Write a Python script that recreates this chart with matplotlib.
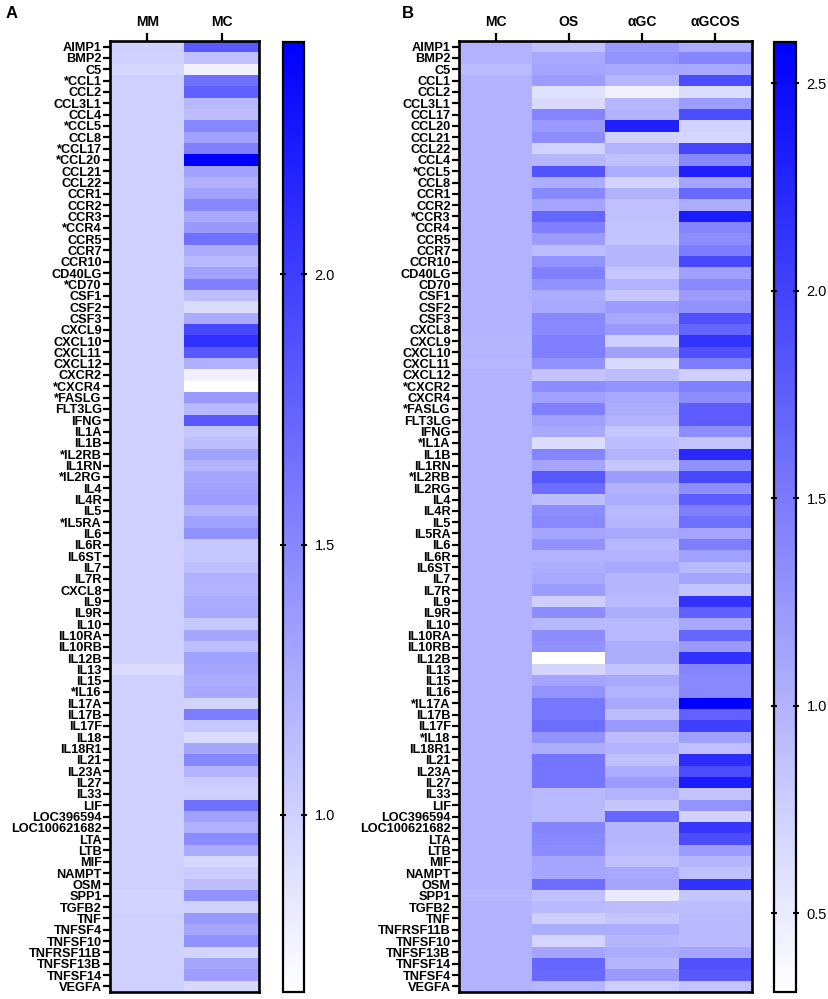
import matplotlib
matplotlib.use("Agg")
import matplotlib.pyplot as plt
import numpy as np
from matplotlib.colors import LinearSegmentedColormap

plt.rcParams['font.family'] = ['Liberation Sans', 'DejaVu Sans']

# ---------------- Panel A data ----------------
genes_a = ["AIMP1", "BMP2", "C5", "*CCL1", "CCL2", "CCL3L1", "CCL4", "*CCL5", "CCL8", "*CCL17",
           "*CCL20", "CCL21", "CCL22", "CCR1", "CCR2", "CCR3", "*CCR4", "CCR5", "CCR7", "CCR10",
           "CD40LG", "*CD70", "CSF1", "CSF2", "CSF3", "CXCL9", "CXCL10", "CXCL11", "CXCL12", "CXCR2",
           "*CXCR4", "*FASLG", "FLT3LG", "IFNG", "IL1A", "IL1B", "*IL2RB", "IL1RN", "*IL2RG", "IL4",
           "IL4R", "IL5", "*IL5RA", "IL6", "IL6R", "IL6ST", "IL7", "IL7R", "CXCL8", "IL9",
           "IL9R", "IL10", "IL10RA", "IL10RB", "IL12B", "IL13", "IL15", "*IL16", "IL17A", "IL17B",
           "IL17F", "IL18", "IL18R1", "IL21", "IL23A", "IL27", "IL33", "LIF", "LOC396594", "LOC100621682",
           "LTA", "LTB", "MIF", "NAMPT", "OSM", "SPP1", "TGFB2", "TNF", "TNFSF4", "TNFSF10",
           "TNFRSF11B", "TNFSF13B", "TNFSF14", "VEGFA"]
cols_a = ["MM", "MC"]
mm_a = [1.00, 0.99, 0.96, 1.00, 1.00, 1.00, 1.00, 1.00, 1.00, 1.00,
        1.00, 1.00, 1.00, 1.00, 1.00, 1.00, 1.00, 1.00, 1.00, 1.00,
        1.00, 1.00, 1.00, 1.00, 1.00, 1.00, 1.00, 1.00, 1.00, 1.00,
        1.00, 1.00, 1.00, 1.00, 1.00, 1.00, 1.00, 1.00, 1.00, 1.00,
        1.00, 1.00, 1.00, 1.00, 1.00, 1.00, 1.00, 1.00, 1.00, 1.00,
        1.00, 1.00, 1.00, 1.00, 1.00, 0.93, 1.00, 1.00, 1.00, 1.00,
        1.00, 1.00, 1.00, 1.00, 1.00, 1.00, 1.00, 1.00, 1.00, 1.00,
        1.00, 1.00, 1.00, 1.00, 1.00, 0.97, 0.98, 1.00, 1.00, 1.00,
        1.00, 1.00, 1.00, 1.00]
mc_a = [1.81, 1.11, 0.78, 1.66, 1.77, 1.16, 1.13, 1.50, 1.32, 1.55,
        2.43, 1.32, 1.22, 1.32, 1.50, 1.27, 1.38, 1.66, 1.25, 1.16,
        1.32, 1.55, 1.13, 0.92, 1.25, 1.94, 2.10, 1.82, 1.22, 0.78,
        0.67, 1.38, 1.16, 1.82, 1.06, 1.13, 1.32, 1.19, 1.29, 1.32,
        1.35, 1.19, 1.32, 1.44, 1.06, 1.06, 1.13, 1.22, 1.19, 1.25,
        1.27, 1.06, 1.29, 1.13, 1.32, 1.29, 1.25, 1.27, 0.97, 1.57,
        1.06, 0.92, 1.29, 1.50, 1.19, 1.03, 1.00, 1.66, 1.32, 1.22,
        1.47, 1.25, 0.95, 1.03, 1.13, 1.41, 1.00, 1.38, 1.29, 1.44,
        0.97, 1.29, 1.35, 0.95]
vmin_a, vmax_a = 0.672, 2.43
ticks_a = [1.0, 1.5, 2.0]

# ---------------- Panel B data ----------------
genes_b = ["AIMP1", "BMP2", "C5", "CCL1", "CCL2", "CCL3L1", "CCL17", "CCL20", "CCL21", "CCL22",
           "CCL4", "*CCL5", "CCL8", "CCR1", "CCR2", "*CCR3", "CCR4", "CCR5", "CCR7", "CCR10",
           "CD40LG", "CD70", "CSF1", "CSF2", "CSF3", "CXCL8", "CXCL9", "CXCL10", "CXCL11", "CXCL12",
           "*CXCR2", "CXCR4", "*FASLG", "FLT3LG", "IFNG", "*IL1A", "IL1B", "IL1RN", "*IL2RB", "IL2RG",
           "IL4", "IL4R", "IL5", "IL5RA", "IL6", "IL6R", "IL6ST", "IL7", "IL7R", "IL9",
           "IL9R", "IL10", "IL10RA", "IL10RB", "IL12B", "IL13", "IL15", "IL16", "*IL17A", "IL17B",
           "IL17F", "*IL18", "IL18R1", "IL21", "IL23A", "IL27", "IL33", "LIF", "LOC396594", "LOC100621682",
           "LTA", "LTB", "MIF", "NAMPT", "OSM", "SPP1", "TGFB2", "TNF", "TNFRSF11B", "TNFSF10",
           "TNFSF13B", "TNFSF14", "TNFSF4", "VEGFA"]
cols_b = ["MC", "OS", "αGC", "αGCOS"]
mc_b = [1.00, 1.00, 0.92, 1.00, 1.00, 1.00, 1.00, 1.00, 1.00, 1.00,
        1.00, 1.00, 1.00, 1.00, 1.00, 1.00, 1.00, 1.00, 1.00, 1.00,
        1.00, 1.00, 1.00, 1.00, 1.00, 1.00, 0.97, 0.98, 0.96, 1.00,
        1.00, 1.00, 1.00, 1.00, 1.00, 1.00, 1.00, 1.00, 1.00, 1.00,
        1.00, 1.00, 1.00, 1.00, 1.00, 1.00, 1.00, 1.00, 1.00, 1.00,
        1.00, 1.00, 1.00, 1.00, 1.00, 1.00, 1.00, 1.00, 1.00, 1.00,
        1.00, 1.00, 1.00, 1.00, 1.00, 1.00, 1.00, 1.00, 1.00, 1.00,
        1.00, 1.00, 1.00, 1.00, 1.00, 0.96, 1.00, 1.00, 1.00, 1.00,
        1.00, 1.00, 1.00, 1.00]
os_b = [0.88, 1.09, 1.12, 1.20, 0.59, 0.65, 1.41, 1.23, 1.33, 0.72,
        0.97, 1.85, 1.05, 1.38, 1.12, 1.69, 1.45, 1.20, 0.91, 1.27,
        1.45, 1.30, 1.05, 1.09, 1.38, 1.38, 1.45, 1.45, 1.30, 0.85,
        1.33, 1.16, 1.45, 1.16, 1.09, 0.63, 1.41, 1.12, 1.81, 1.62,
        0.91, 1.33, 1.38, 1.12, 1.30, 1.00, 1.05, 1.09, 1.20, 0.75,
        1.33, 0.94, 1.33, 1.30, 0.31, 0.69, 1.12, 1.27, 1.52, 1.52,
        1.62, 1.27, 1.05, 1.55, 1.55, 1.55, 0.94, 0.94, 0.94, 1.41,
        1.38, 1.33, 1.12, 1.12, 1.62, 0.88, 0.94, 0.75, 1.05, 0.69,
        1.12, 1.69, 1.66, 0.97]
agc_b = [1.23, 1.27, 1.09, 0.97, 0.45, 0.97, 1.00, 2.31, 0.72, 1.00,
         0.88, 1.05, 0.72, 1.00, 0.88, 0.88, 0.85, 0.85, 0.97, 0.97,
         0.82, 1.00, 0.82, 1.20, 1.09, 1.23, 0.75, 1.16, 0.65, 0.91,
         1.27, 1.09, 1.05, 1.00, 0.82, 0.91, 1.00, 0.82, 1.20, 1.00,
         1.05, 0.94, 0.97, 1.09, 0.94, 1.00, 1.09, 0.97, 0.97, 0.94,
         1.05, 0.94, 0.94, 1.05, 1.05, 0.85, 1.09, 1.00, 1.09, 0.91,
         1.23, 0.91, 1.00, 0.88, 1.05, 1.20, 1.00, 0.82, 1.69, 0.97,
         0.97, 0.94, 0.88, 1.09, 1.12, 0.50, 0.91, 0.82, 1.05, 0.97,
         1.05, 0.97, 1.23, 0.75]
agcos_b = [1.05, 1.41, 1.09, 1.92, 0.63, 1.20, 1.92, 0.72, 0.69, 1.99,
           1.38, 2.31, 1.12, 1.66, 1.05, 2.35, 1.41, 1.33, 1.48, 1.95,
           1.16, 1.38, 1.20, 1.30, 1.88, 1.69, 2.14, 1.88, 1.48, 0.75,
           1.45, 1.33, 1.77, 1.77, 1.33, 0.85, 2.24, 1.30, 1.95, 1.33,
           1.77, 1.45, 1.59, 1.12, 1.48, 1.16, 0.94, 1.12, 0.85, 2.14,
           1.73, 1.09, 1.69, 1.23, 2.14, 1.41, 1.38, 1.38, 2.60, 1.73,
           2.03, 1.16, 0.88, 2.20, 1.92, 2.35, 0.85, 1.27, 0.72, 2.10,
           1.92, 1.20, 0.97, 0.88, 2.14, 0.82, 0.91, 0.94, 0.94, 0.94,
           1.12, 1.88, 1.81, 0.85]
vmin_b, vmax_b = 0.31, 2.60
ticks_b = [0.5, 1.0, 1.5, 2.0, 2.5]

# ---------------- Figure ----------------
W, H = 829, 999
fig = plt.figure(figsize=(W / 100, H / 100), dpi=100)
cmap = LinearSegmentedColormap.from_list("wb", ["#ffffff", "#0000ff"])


def px_axes(x0, x1, y0, y1):
    return fig.add_axes([x0 / W, 1 - y1 / H, (x1 - x0) / W, (y1 - y0) / H])


def heat(ax, cax, data, rows, cols, vmin, vmax, ticks):
    im = ax.imshow(data, cmap=cmap, vmin=vmin, vmax=vmax, aspect='auto',
                   interpolation='nearest')
    ax.set_yticks(np.arange(len(rows)))
    ax.set_yticklabels(rows, fontsize=9.2, fontweight='bold')
    ax.set_xticks(np.arange(len(cols)))
    ax.set_xticklabels(cols, fontsize=10, fontweight='bold')
    ax.xaxis.tick_top()
    ax.tick_params(axis='y', length=5, width=1.6, pad=1)
    ax.tick_params(axis='x', length=6, width=1.6, pad=3, bottom=False)
    for s in ax.spines.values():
        s.set_linewidth(1.9)
    cb = fig.colorbar(im, cax=cax, ticks=ticks, format='%.1f')
    cb.outline.set_linewidth(1.6)
    cax.tick_params(axis='y', which='major', left=True, right=True, direction='inout',
                    length=5, width=1.5, labelsize=10.5, pad=5)
    return im


ax_a = px_axes(110, 259, 41, 992)
cax_a = px_axes(283, 304, 42, 992)
data_a = np.column_stack([mm_a, mc_a])
heat(ax_a, cax_a, data_a, genes_a, cols_a, vmin_a, vmax_a, ticks_a)

ax_b = px_axes(459, 752, 41, 992)
cax_b = px_axes(774, 796, 42, 992)
data_b = np.column_stack([mc_b, os_b, agc_b, agcos_b])
heat(ax_b, cax_b, data_b, genes_b, cols_b, vmin_b, vmax_b, ticks_b)

fig.text(12 / W, 1 - 14 / H, "A", fontsize=12, fontweight='bold', ha='center', va='center')
fig.text(408 / W, 1 - 14 / H, "B", fontsize=12, fontweight='bold', ha='center', va='center')

fig.savefig("out.png", dpi=100)
